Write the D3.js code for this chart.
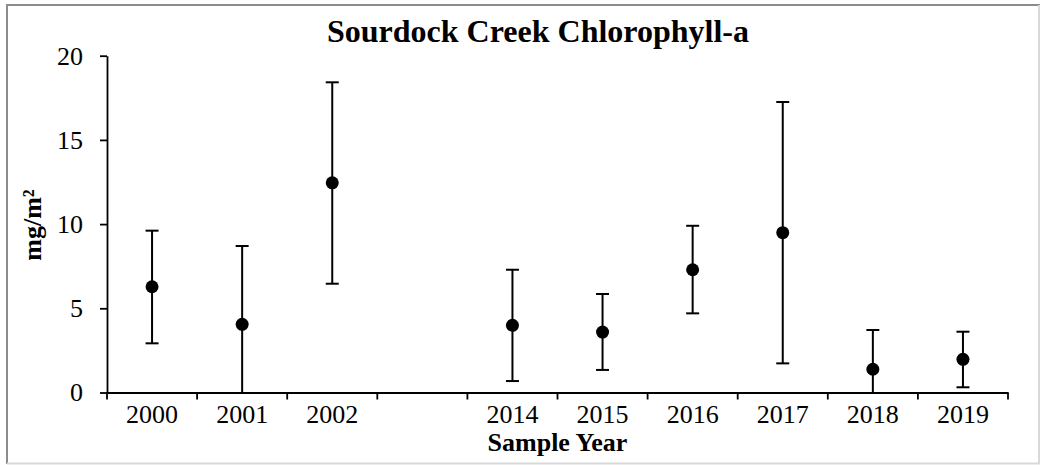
<!DOCTYPE html>
<html>
<head>
<meta charset="utf-8">
<script src="https://cdn.jsdelivr.net/npm/d3@7"></script>
<style>
  body { margin: 0; background: #fff; }
  svg { display: block; font-family: "Liberation Serif", "Times New Roman", serif; }
</style>
</head>
<body>
<svg id="chart" width="1046" height="465"></svg>
<script>
// Chart data
const years = ["2000", "2001", "2002", "", "2014", "2015", "2016", "2017", "2018", "2019"];
const means = [6.28, 4.05, 12.45, null, 3.99, 3.59, 7.29, 9.49, 1.38, 1.97];
const lower = [2.92, 0, 6.46, null, 0.68, 1.34, 4.70, 1.73, 0, 0.31];
const upper = [9.61, 8.70, 18.42, null, 7.29, 5.85, 9.90, 17.25, 3.71, 3.61];
const yTicks = [0, 5, 10, 15, 20];

const svg = d3.select("#chart");

// Chart area border
svg.append("line").attr("x1", 6).attr("x2", 1040).attr("y1", 5).attr("y2", 5)
  .attr("stroke", "#8c8c8c").attr("stroke-width", 2);
svg.append("line").attr("x1", 7).attr("x2", 7).attr("y1", 5).attr("y2", 464)
  .attr("stroke", "#8c8c8c").attr("stroke-width", 2);
svg.append("line").attr("x1", 1039).attr("x2", 1039).attr("y1", 5).attr("y2", 464)
  .attr("stroke", "#d9d9d9").attr("stroke-width", 2);
svg.append("line").attr("x1", 7).attr("x2", 1040).attr("y1", 463.5).attr("y2", 463.5)
  .attr("stroke", "#d9d9d9").attr("stroke-width", 2);

// Scales
const xScale = d3.scaleBand()
  .domain(years)
  .range([107, 1008])
  .padding(0);

const yScale = d3.scaleLinear()
  .domain([0, 20])
  .range([392.5, 55.7]);

// Y axis
const yAxis = d3.axisLeft(yScale)
  .tickValues(yTicks)
  .tickSizeInner(7)
  .tickSizeOuter(0)
  .tickPadding(17);

const yG = svg.append("g")
  .attr("transform", `translate(${xScale.range()[0]},0)`)
  .call(yAxis);

// X axis: labels centered in bands, ticks between categories
const xAxis = d3.axisBottom(xScale)
  .tickSize(0)
  .tickPadding(12);

const xG = svg.append("g")
  .attr("transform", `translate(0,${yScale(0)})`)
  .call(xAxis);

xG.selectAll(".boundary")
  .data(years.map(d => xScale(d)).concat([xScale.range()[1]]))
  .enter()
  .append("line")
  .attr("class", "boundary")
  .attr("x1", d => d)
  .attr("x2", d => d)
  .attr("y1", 0)
  .attr("y2", 7)
  .attr("stroke", "#000")
  .attr("stroke-width", 1.8);

[yG, xG].forEach(g => {
  g.select(".domain").attr("stroke", "#000").attr("stroke-width", 1.8);
  g.selectAll(".tick line").attr("stroke", "#000").attr("stroke-width", 1.8);
  g.selectAll(".tick text")
    .attr("fill", "#000")
    .style("font-family", "'Liberation Serif', 'Times New Roman', serif")
    .style("font-size", "26px");
});

// Error bars and points
const points = years.map((y, i) => ({ year: y, mean: means[i], lo: lower[i], hi: upper[i] }))
  .filter(d => d.mean !== null);

const cx = d => xScale(d.year) + xScale.bandwidth() / 2;

const bars = svg.append("g");

bars.selectAll(".whisker")
  .data(points)
  .enter()
  .append("line")
  .attr("x1", cx)
  .attr("x2", cx)
  .attr("y1", d => yScale(d.lo))
  .attr("y2", d => yScale(d.hi))
  .attr("stroke", "#000")
  .attr("stroke-width", 2);

bars.selectAll(".capHi")
  .data(points)
  .enter()
  .append("line")
  .attr("x1", d => cx(d) - 6.5)
  .attr("x2", d => cx(d) + 6.5)
  .attr("y1", d => yScale(d.hi))
  .attr("y2", d => yScale(d.hi))
  .attr("stroke", "#000")
  .attr("stroke-width", 2);

bars.selectAll(".capLo")
  .data(points.filter(d => d.lo > 0))
  .enter()
  .append("line")
  .attr("x1", d => cx(d) - 6.5)
  .attr("x2", d => cx(d) + 6.5)
  .attr("y1", d => yScale(d.lo))
  .attr("y2", d => yScale(d.lo))
  .attr("stroke", "#000")
  .attr("stroke-width", 2);

svg.selectAll(".dot")
  .data(points)
  .enter()
  .append("circle")
  .attr("class", "dot")
  .attr("cx", cx)
  .attr("cy", d => yScale(d.mean))
  .attr("r", 6.5)
  .attr("fill", "#000");

// Titles
svg.append("text")
  .attr("x", 538)
  .attr("y", 42)
  .attr("text-anchor", "middle")
  .style("font-size", "32px")
  .style("font-weight", "bold")
  .text("Sourdock Creek Chlorophyll-a");

svg.append("text")
  .attr("x", 557.5)
  .attr("y", 451)
  .attr("text-anchor", "middle")
  .style("font-size", "26px")
  .style("font-weight", "bold")
  .text("Sample Year");

svg.append("text")
  .attr("transform", "translate(41,225) rotate(-90)")
  .attr("text-anchor", "middle")
  .style("font-size", "26px")
  .style("font-weight", "bold")
  .text("mg/m²");
</script>
</body>
</html>
